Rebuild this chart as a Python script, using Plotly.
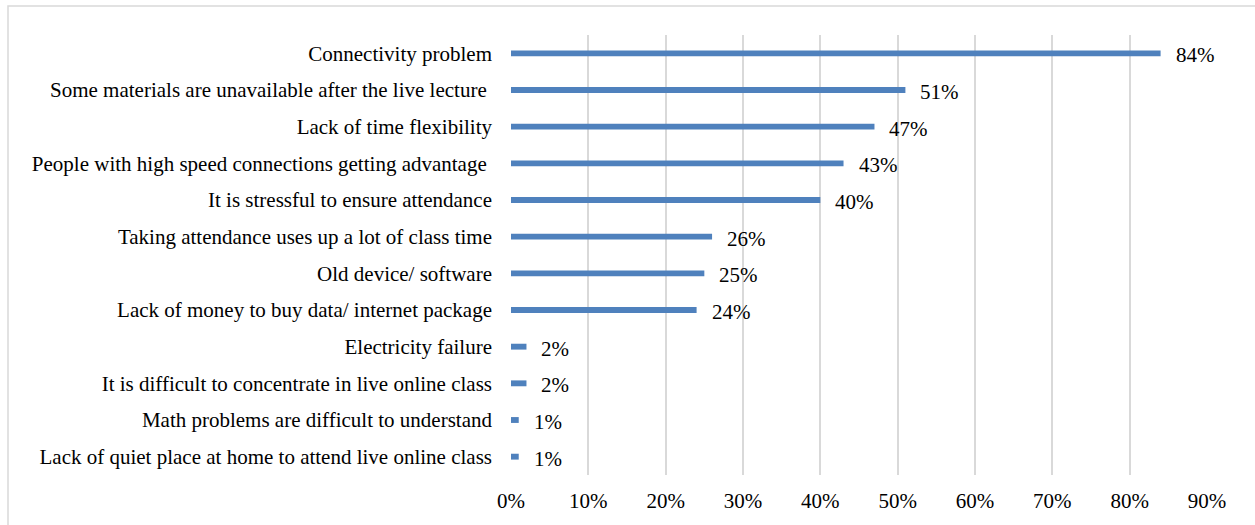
import plotly.graph_objects as go

# Reported problems with live online classes (share of respondents)
categories = [
    "Connectivity problem",
    "Some materials are unavailable after the live lecture ",
    "Lack of time flexibility",
    "People with high speed connections getting advantage ",
    "It is stressful to ensure attendance",
    "Taking attendance uses up a lot of class time",
    "Old device/ software",
    "Lack of money to buy data/ internet package",
    "Electricity failure",
    "It is difficult to concentrate in live online class",
    "Math problems are difficult to understand",
    "Lack of quiet place at home to attend live online class",
]
values = [0.84, 0.51, 0.47, 0.43, 0.40, 0.26, 0.25, 0.24, 0.02, 0.02, 0.01, 0.01]
x_ticks = [0, 0.1, 0.2, 0.3, 0.4, 0.5, 0.6, 0.7, 0.8, 0.9]
x_tick_text = ["0%", "10%", "20%", "30%", "40%", "50%", "60%", "70%", "80%", "90%"]

FONT = "Liberation Serif"
FSIZE = 21

fig = go.Figure(
    go.Bar(
        x=values,
        y=categories,
        orientation="h",
        width=0.16,
        marker=dict(color="#4F81BD", line=dict(width=0)),
        hoverinfo="x+y",
    )
)

# value labels to the right of each bar
for cat, v in zip(categories, values):
    fig.add_annotation(
        x=v,
        y=cat,
        xref="x",
        yref="y",
        text=f"{round(v * 100)}%",
        showarrow=False,
        xanchor="left",
        yanchor="middle",
        xshift=13,
        yshift=-2,
        font=dict(family=FONT, size=FSIZE, color="#000000"),
    )

fig.update_layout(
    width=1255,
    height=525,
    margin=dict(l=511, r=48, t=35, b=50),
    paper_bgcolor="white",
    plot_bgcolor="white",
    showlegend=False,
    font=dict(family=FONT, size=FSIZE, color="#000000"),
    xaxis=dict(
        range=[0, 0.9],
        tickvals=x_ticks,
        ticktext=x_tick_text,
        showgrid=True,
        gridcolor="#d9d9d9",
        gridwidth=2,
        zeroline=False,
        showline=False,
        ticks="",
        ticklen=0,
        ticklabelstandoff=11,
        tickfont=dict(family=FONT, size=FSIZE, color="#000000"),
    ),
    yaxis=dict(
        autorange="reversed",
        showgrid=False,
        zeroline=False,
        showline=False,
        ticks="",
        ticklabelstandoff=18,
        tickfont=dict(family=FONT, size=FSIZE, color="#000000"),
    ),
    shapes=[
        dict(
            type="rect",
            xref="paper",
            yref="paper",
            x0=(8 - 511) / 696,
            x1=(1262 - 511) / 696,
            y0=(475 - 530) / 440,
            y1=(475 - 6) / 440,
            line=dict(color="#d9d9d9", width=1.5),
            fillcolor="rgba(0,0,0,0)",
            layer="below",
        )
    ],
)

fig.write_html("out.html")
